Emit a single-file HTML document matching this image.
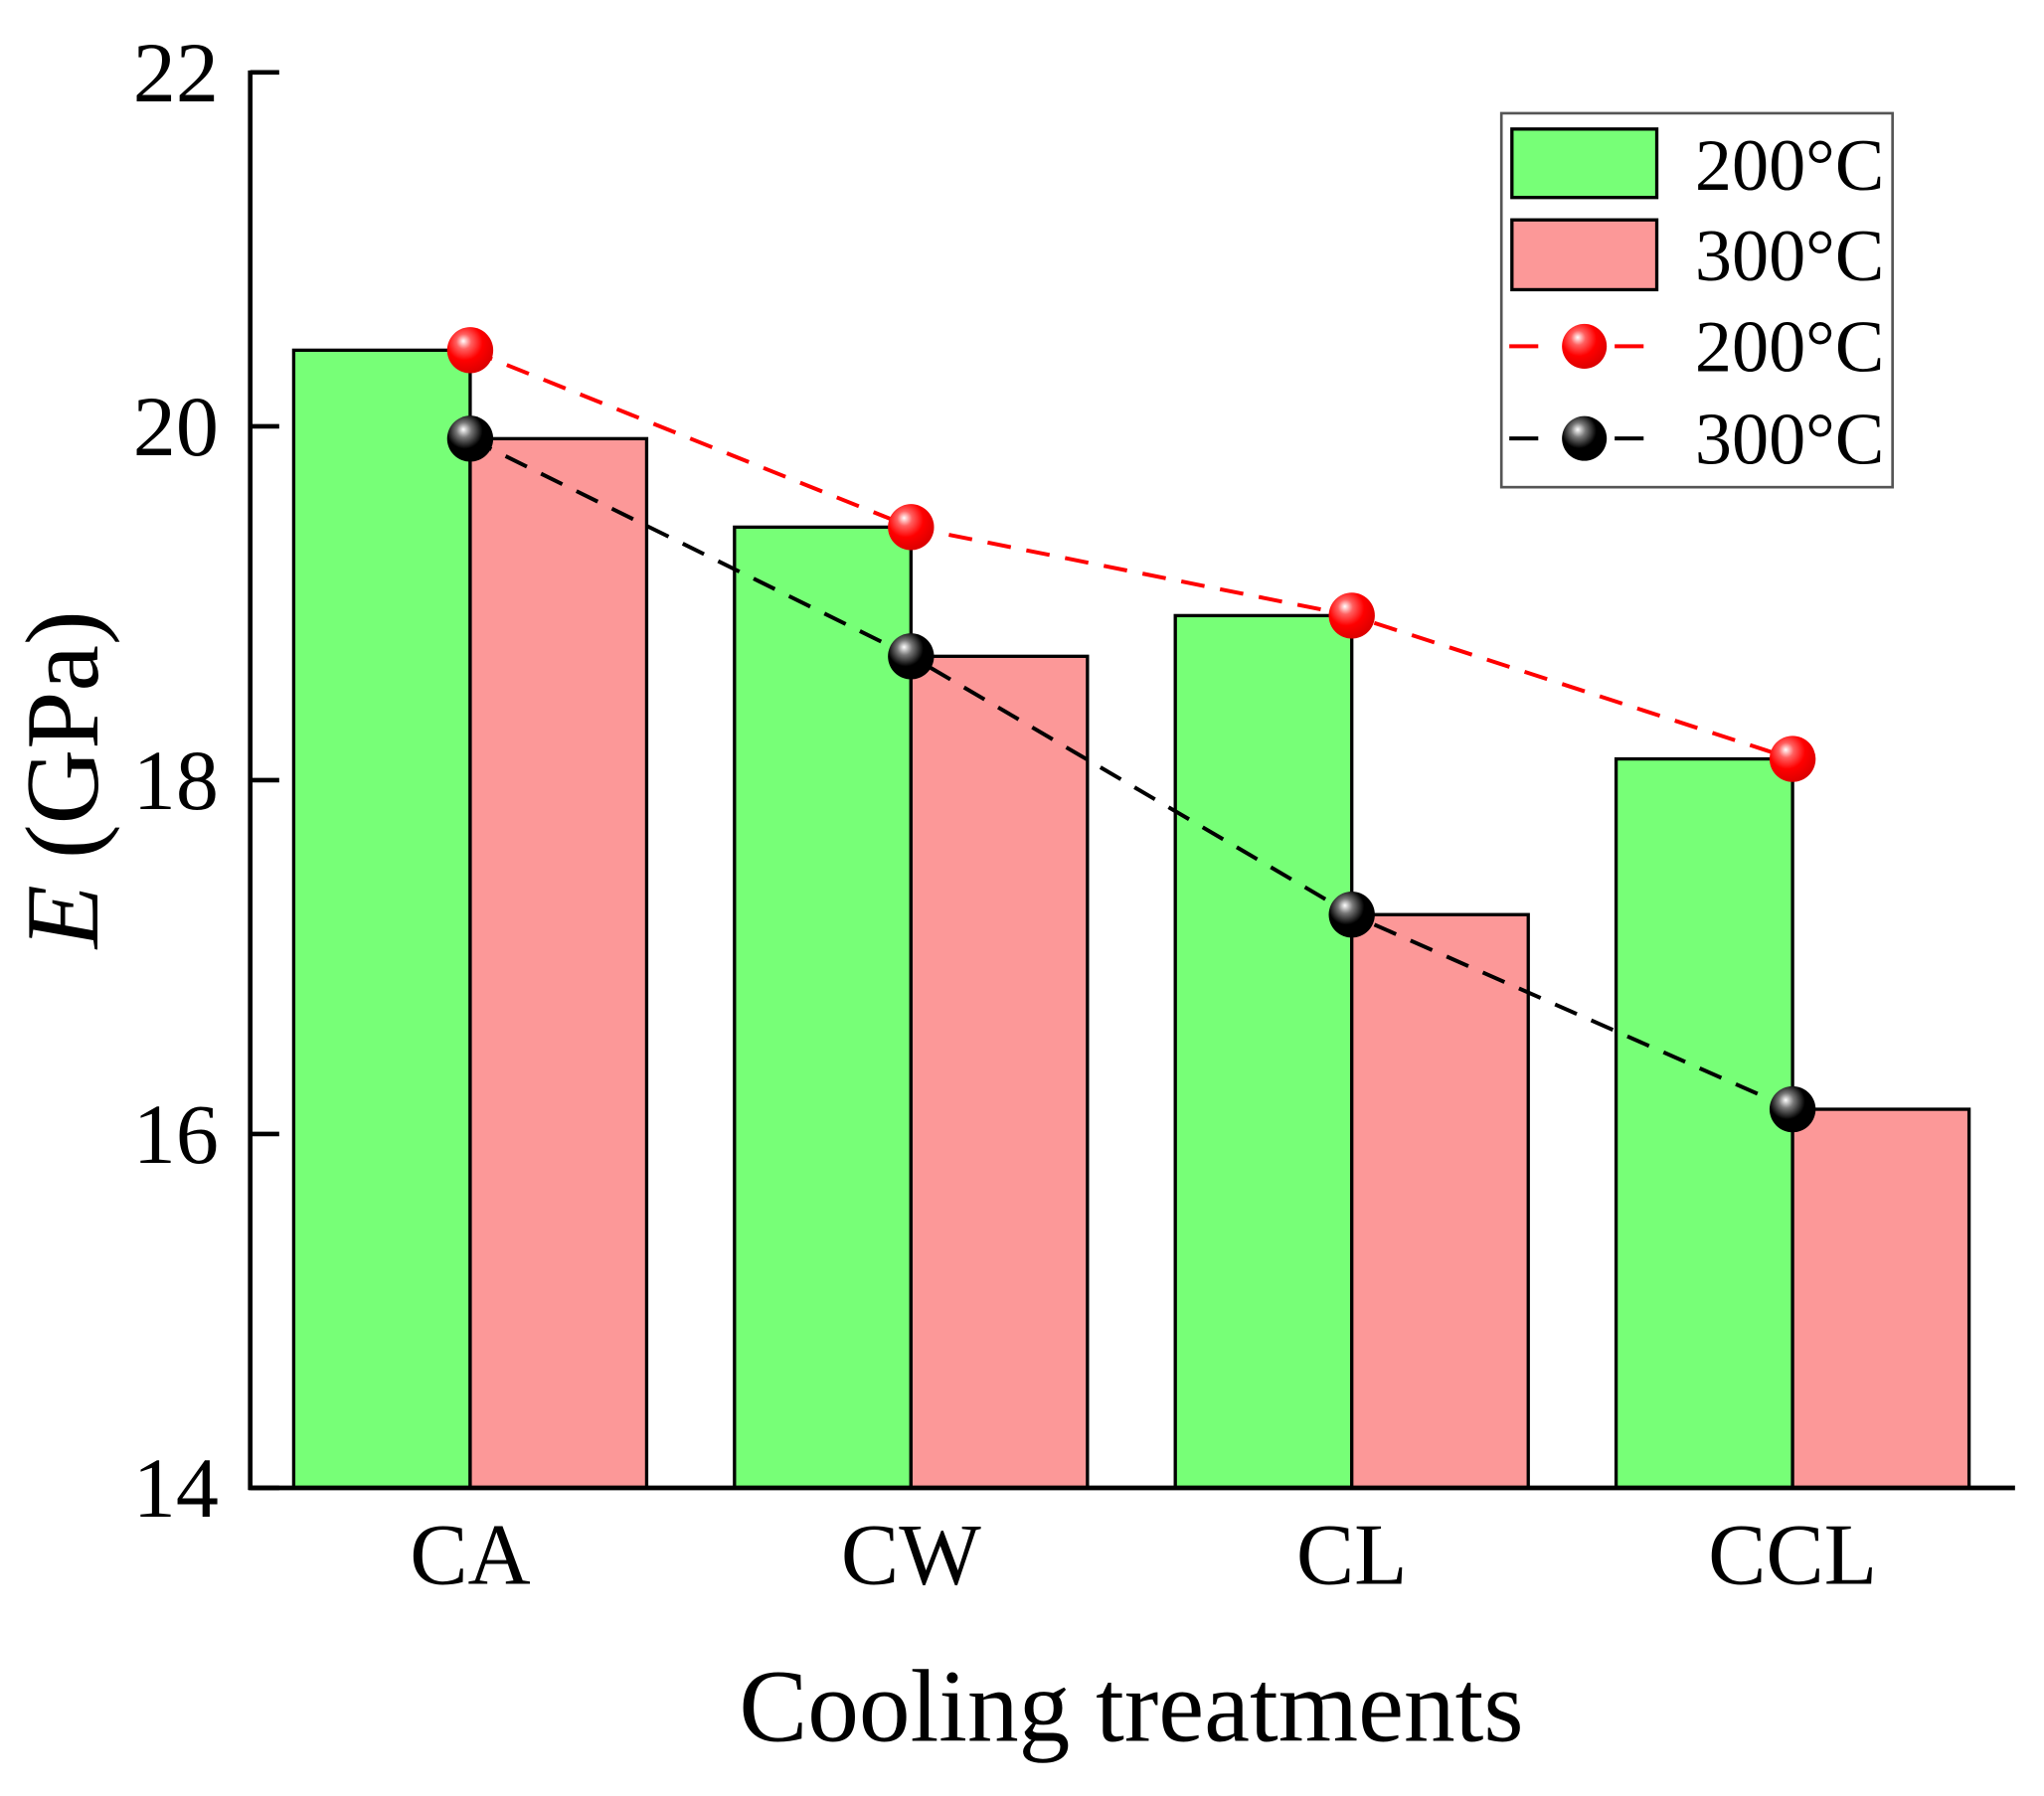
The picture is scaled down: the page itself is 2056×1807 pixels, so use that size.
<!DOCTYPE html>
<html><head><meta charset="utf-8"><style>
html,body{margin:0;padding:0;background:#fff;}
svg{display:block;font-family:"Liberation Serif",serif;}
</style></head><body>
<svg id="chart" width="2056" height="1807" viewBox="0 0 1552 1364" preserveAspectRatio="none" xmlns="http://www.w3.org/2000/svg">
<defs>
<radialGradient id="gRed" cx="0.4" cy="0.35" r="0.65" fx="0.35" fy="0.3">
<stop offset="0" stop-color="#fff"/><stop offset="0.25" stop-color="#ff6060"/><stop offset="0.6" stop-color="#f00"/><stop offset="1" stop-color="#d00"/></radialGradient>
<radialGradient id="gBlack" cx="0.4" cy="0.35" r="0.65" fx="0.35" fy="0.3">
<stop offset="0" stop-color="#fff"/><stop offset="0.25" stop-color="#777"/><stop offset="0.6" stop-color="#000"/><stop offset="1" stop-color="#000"/></radialGradient>
</defs>
<g id="bars"></g>
<g id="lines"></g>
<g id="axes"></g>
<g id="legend">
<rect x="1140" y="86" width="297" height="284" fill="#fff" stroke="#555" stroke-width="2"/>
<rect x="1148" y="98" width="110" height="52" fill="#77ff77" stroke="#000" stroke-width="2.5"/>
<rect x="1148" y="167" width="110" height="53" fill="#fc9898" stroke="#000" stroke-width="2.5"/>
<line x1="1146" y1="263" x2="1168" y2="263" stroke="#f00" stroke-width="3"/><line x1="1226" y1="263" x2="1248" y2="263" stroke="#f00" stroke-width="3"/>
<circle cx="1203" cy="263" r="17" fill="url(#gRed)"/>
<line x1="1146" y1="333" x2="1168" y2="333" stroke="#000" stroke-width="3"/><line x1="1226" y1="333" x2="1248" y2="333" stroke="#000" stroke-width="3"/>
<circle cx="1203" cy="333" r="17" fill="url(#gBlack)"/>
<text x="1287" y="144" font-size="56">200°C</text>
<text x="1287" y="213" font-size="56">300°C</text>
<text x="1287" y="282" font-size="56">200°C</text>
<text x="1287" y="352" font-size="56">300°C</text>
</g>
<text x="859" y="1322" font-size="78" text-anchor="middle">Cooling treatments</text>
<text transform="translate(74,592) rotate(-90)" font-size="79" text-anchor="middle"><tspan font-style="italic">E</tspan> (GPa)</text>
<script>
const categories = ["CA","CW","CL","CCL"];
const values200 = [20.43, 19.43, 18.93, 18.12];
const values300 = [19.93, 18.70, 17.24, 16.14];
const yTicks = [14, 16, 18, 20, 22];

const NS = "http://www.w3.org/2000/svg";
const X0 = 190, X1 = 1530, YB = 1130, YT = 55, YMIN = 14, YMAX = 22;
const y = v => YB - (v - YMIN) / (YMAX - YMIN) * (YB - YT);
const catX = i => 357 + i * 334.7;
const BW = 134;
function mk(tag, attrs, parent) {
  const e = document.createElementNS(NS, tag);
  for (const k in attrs) e.setAttribute(k, attrs[k]);
  parent.appendChild(e);
  return e;
}
const gB = document.getElementById('bars'), gL = document.getElementById('lines'), gA = document.getElementById('axes');
categories.forEach((c, i) => {
  const cx = catX(i);
  const b1 = mk('rect', {x: cx - BW, y: y(values200[i]), width: BW, height: YB - y(values200[i]), fill: '#77ff77', stroke: '#000', 'stroke-width': 2.5}, gB);
  
  
  const b2 = mk('rect', {x: cx, y: y(values300[i]), width: BW, height: YB - y(values300[i]), fill: '#fc9898', stroke: '#000', 'stroke-width': 2.5}, gB);
  
  
  const t = mk('text', {x: cx, y: 1203, 'font-size': 66, 'text-anchor': 'middle'}, gA);
  t.textContent = c;
  
  
});
[[values200, '#f00', 'url(#gRed)', '200'], [values300, '#000', 'url(#gBlack)', '300']].forEach(([vals, col, fill, nm]) => {
  const pl = mk('polyline', {points: vals.map((v, i) => catX(i) + ',' + y(v)).join(' '), fill: 'none', stroke: col, 'stroke-width': 3, 'stroke-dasharray': '18 12'}, gL);
  
  
  vals.forEach((v, i) => {
    const m = mk('circle', {cx: catX(i), cy: y(v), r: 17.5, fill: fill}, gL);
    
    
  });
});
const ya = mk('line', {x1: X0, y1: YT - 1.5, x2: X0, y2: YB + 1.5, stroke: '#000', 'stroke-width': 3.5}, gA);


const xa = mk('line', {x1: X0 - 1.5, y1: YB, x2: X1, y2: YB, stroke: '#000', 'stroke-width': 3.5}, gA);


yTicks.forEach(v => {
  const tk = mk('line', {x1: X0, y1: y(v), x2: X0 + 22, y2: y(v), stroke: '#000', 'stroke-width': 3.5}, gA);
  
  
  const t = mk('text', {x: 166, y: y(v) + 22, 'font-size': 65, 'text-anchor': 'end'}, gA);
  t.textContent = v;
  
  
});
</script>
</svg>
</body></html>
